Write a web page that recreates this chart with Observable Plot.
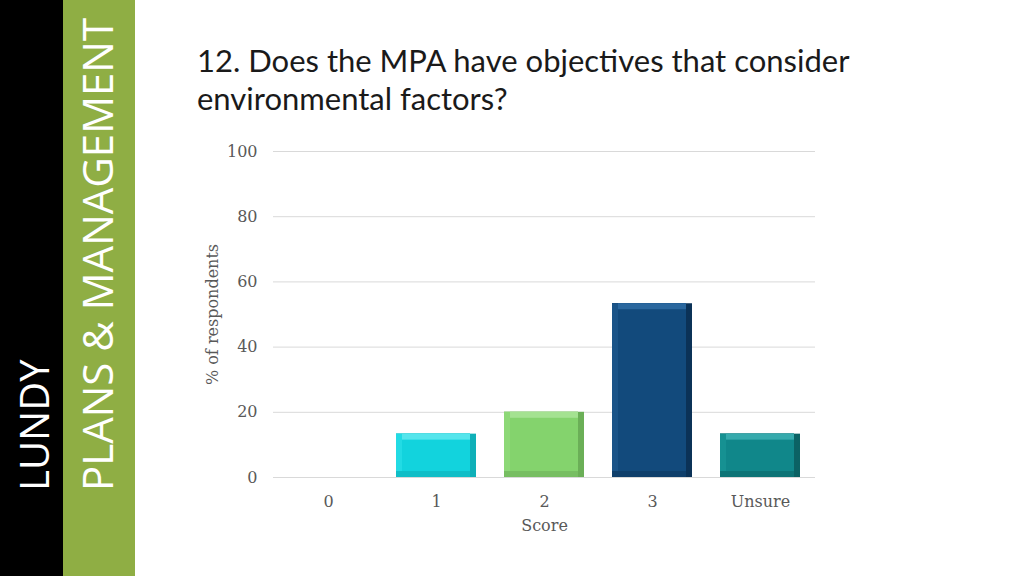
<!DOCTYPE html>
<html>
<head>
<meta charset="utf-8">
<script src="https://cdn.jsdelivr.net/npm/d3@7"></script>
<script src="https://cdn.jsdelivr.net/npm/@observablehq/plot@0.6"></script>
<style>
  html, body { margin: 0; padding: 0; background: #fff; }
  #page { position: relative; width: 1024px; height: 576px; overflow: hidden; background: #fff; }
  #black { position: absolute; left: 0; top: 0; width: 63px; height: 576px; background: #000; }
  #green { position: absolute; left: 63px; top: 0; width: 72px; height: 576px; background: #8fae44; }
  .vtext { position: absolute; color: #fff; font-family: "Open Sans", Lato, sans-serif; white-space: nowrap;
           transform-origin: 0 0; transform: rotate(-90deg); line-height: 1; }
  #lundy { left: 14px; top: 491px; font-size: 40px; }
  #plans { left: 76px; top: 491px; font-size: 42px; }
  #title { position: absolute; left: 197px; top: 41px; font-family: Lato, "Open Sans", sans-serif; font-size: 31px;
           line-height: 38px; color: #1a1a1a; font-weight: 400; }
  #chart { position: absolute; left: 180px; top: 130px; }
  #chart svg text { font-size: 16px; }
</style>
</head>
<body>
<div id="page">
  <div id="black"></div>
  <div id="green"></div>
  <div class="vtext" id="lundy">LUNDY</div>
  <div class="vtext" id="plans">PLANS &amp; MANAGEMENT</div>
  <div id="title">12. Does the MPA have objectives that consider<br>environmental factors?</div>
  <div id="chart"></div>
</div>
<script>
// ---- data ----
const scores = ["0", "1", "2", "3", "Unsure"];
const percents = [0, 13.3, 20, 53.3, 13.3];
const yTicks = [0, 20, 40, 60, 80, 100];

// ---- palette (per category) ----
const faceColor   = ["#12d3dd", "#12d3dd", "#84d36d", "#124a7c", "#10878a"];
const topColor    = ["#55e5ec", "#55e5ec", "#a4e291", "#2a679e", "#36aaad"];
const leftColor   = ["#22dbe4", "#22dbe4", "#8dd877", "#1a5488", "#169192"];
const rightColor  = ["#0fb0b8", "#0fb0b8", "#6baf57", "#0b3257", "#0b6264"];
const bottomColor = ["#10bec7", "#10bec7", "#77be62", "#0f3f6b", "#0d7476"];

const rows = scores.map((s, i) => ({
  score: s, pct: percents[i],
  face: faceColor[i], top: topColor[i], left: leftColor[i], right: rightColor[i], bottom: bottomColor[i]
})).filter(d => d.pct > 0);

const b = 6;
const chart = Plot.plot({
  width: 660,
  height: 410,
  marginLeft: 93,
  marginRight: 25,
  marginTop: 21,
  marginBottom: 63,
  style: { fontFamily: "DejaVu Serif, serif", fontSize: "16px", color: "#595959", background: "transparent" },
  x: { domain: scores, paddingInner: 0.26, paddingOuter: 0.13 },
  y: { domain: [0, 100] },
  color: { type: "identity" },
  marks: [
    Plot.gridY(yTicks, { stroke: "#d9d9d9", strokeOpacity: 1, strokeWidth: 1 }),
    Plot.axisY(yTicks, { tickSize: 0, tickPadding: 16, label: "% of respondents", labelAnchor: "center",
                         labelArrow: "none", labelOffset: 67, fontSize: 16 }),
    Plot.axisX({ tickSize: 0, tickPadding: 18, label: "Score", labelAnchor: "center", labelArrow: "none",
                 labelOffset: 53, fontSize: 16 }),
    Plot.barY(rows, { x: "score", y: "pct", fill: "right" }),
    Plot.barY(rows, { x: "score", y: "pct", fill: "bottom", insetRight: b }),
    Plot.barY(rows, { x: "score", y: "pct", fill: "left", insetRight: b, insetBottom: b }),
    Plot.barY(rows, { x: "score", y: "pct", fill: "top", insetRight: b, insetBottom: b, insetLeft: b }),
    Plot.barY(rows, { x: "score", y: "pct", fill: "face", inset: b })
  ]
});
document.getElementById("chart").appendChild(chart);
</script>
</body>
</html>
